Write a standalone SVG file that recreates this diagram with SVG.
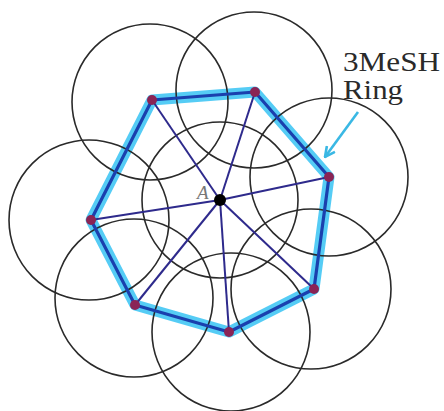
<svg xmlns="http://www.w3.org/2000/svg" width="444" height="411" viewBox="0 0 444 411">
<style>
.c{fill:none;stroke:#2a2a2a;stroke-width:1.6}
.glow{fill:none;stroke:#42c6f4;stroke-width:11;stroke-linejoin:round;opacity:0.9}
.ring{fill:none;stroke:#1a40ae;stroke-width:3.2;stroke-linejoin:round}
.spoke{stroke:#2e2a8c;stroke-width:2}
.v{fill:#8a2455}
.lbl{font-family:"Liberation Serif",serif;fill:#2a2a2a}
</style>
<defs>
<marker id="ah" viewBox="0 0 12 12" refX="11" refY="6" markerWidth="12" markerHeight="12" markerUnits="userSpaceOnUse" orient="auto">
<path d="M1,1 L11,6 L1,11" fill="none" stroke="#3ab8e4" stroke-width="2.6"/>
</marker>
</defs>
<rect width="444" height="411" fill="#fff"/>
<g id="ring-glow">
<polygon class="glow" points="152,100 255,92 329,177 314,289 229,332 135,305 91,220"/>
</g>
<g id="circles">
<circle id="circle-center" class="c" cx="220" cy="200" r="78"/>
<circle id="circle-1" class="c" cx="150" cy="102" r="78"/>
<circle id="circle-2" class="c" cx="254" cy="90" r="78"/>
<circle id="circle-3" class="c" cx="329" cy="177" r="79"/>
<circle id="circle-4" class="c" cx="311" cy="289" r="80"/>
<circle id="circle-5" class="c" cx="231" cy="332" r="79"/>
<circle id="circle-6" class="c" cx="134" cy="298" r="79"/>
<circle id="circle-7" class="c" cx="89" cy="220" r="80"/>
</g>
<g id="connectors">
<polygon class="ring" points="152,100 255,92 329,177 314,289 229,332 135,305 91,220"/>
<line class="spoke" x1="220" y1="200" x2="152" y2="100"/>
<line class="spoke" x1="220" y1="200" x2="255" y2="92"/>
<line class="spoke" x1="220" y1="200" x2="329" y2="177"/>
<line class="spoke" x1="220" y1="200" x2="314" y2="289"/>
<line class="spoke" x1="220" y1="200" x2="229" y2="332"/>
<line class="spoke" x1="220" y1="200" x2="135" y2="305"/>
<line class="spoke" x1="220" y1="200" x2="91" y2="220"/>
<line id="ring-arrow" x1="358" y1="112" x2="325" y2="157" stroke="#3ab8e4" stroke-width="2.6" marker-end="url(#ah)"/>
</g>
<g id="vertices">
<circle class="v" cx="152" cy="100" r="5"/>
<circle class="v" cx="255" cy="92" r="5"/>
<circle class="v" cx="329" cy="177" r="5"/>
<circle class="v" cx="314" cy="289" r="5"/>
<circle class="v" cx="229" cy="332" r="5"/>
<circle class="v" cx="135" cy="305" r="5"/>
<circle class="v" cx="91" cy="220" r="5"/>
</g>
<g id="node-A">
<circle cx="220" cy="200" r="6" fill="#000"/>
<text class="lbl" x="197" y="199" font-size="19" font-style="italic" style="fill:#777">A</text>
</g>
<g id="label">
<text class="lbl" x="343" y="71" font-size="27" textLength="97" lengthAdjust="spacingAndGlyphs">3MeSH</text>
<text class="lbl" x="343" y="99" font-size="27" textLength="60" lengthAdjust="spacingAndGlyphs">Ring</text>
</g>
</svg>
